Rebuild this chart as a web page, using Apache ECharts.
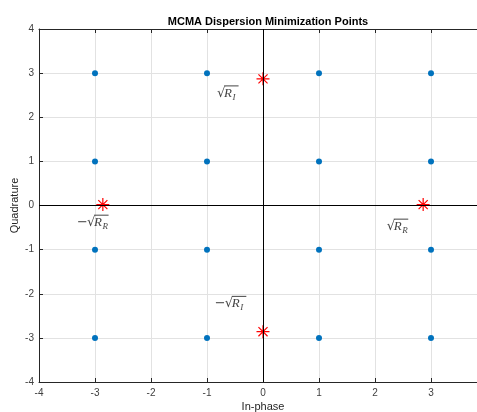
<!DOCTYPE html>
<html>
<head>
<meta charset="utf-8">
<script src="https://cdn.jsdelivr.net/npm/echarts@6/dist/echarts.min.js"></script>
<style>
  html, body { margin: 0; padding: 0; background: #fff; }
  #main { width: 477px; height: 412px; }
</style>
</head>
<body>
<div id="main"></div>
<script>
// 16-QAM constellation levels
const qamLevels = [-3, -1, 1, 3];
// dispersion minimization points (sqrt(R) ~ 2.86)
const dispX = [0, 0, -2.86, 2.86];
const dispY = [2.87, -2.86, 0.02, 0.02];
// annotation anchors (left edge / baseline, data units)
const labelX = [-0.82, -0.86, -3.32, 2.21];
const labelY = [2.45, -2.32, -0.48, -0.57];
const labelNeg = [0, 1, 1, 0];
const labelSub = ["I", "I", "R", "R"];

const ink = "#262626";
const qamData = [];
qamLevels.forEach(function (i) {
  qamLevels.forEach(function (q) {
    qamData.push([i, q]);
  });
});
const dispData = dispX.map(function (x, k) { return [x, dispY[k]]; });
const labelData = labelX.map(function (x, k) { return [x, labelY[k], labelNeg[k]]; });

const myChart = echarts.init(document.getElementById("main"));

function renderLabel(params, api) {
  const pt = api.coord([api.value(0), api.value(1)]);
  let x = pt[0];
  const base = pt[1];
  const kids = [];
  if (api.value(2) === 1) {
    kids.push({ type: "text", style: { text: "\u2212", x: x, y: base - 4, font: '13px "DejaVu Serif"', fill: "#444", textVerticalAlign: "middle" } });
    x += 10;
  }
  kids.push({ type: "text", style: { text: "\u221A", x: x, y: base - 4, font: '13px "DejaVu Serif"', fill: "#444", textVerticalAlign: "middle" } });
  x += 7;
  const lineStart = x;
  kids.push({ type: "text", style: { text: "R", x: x, y: base - 4, font: 'italic 13px "Liberation Serif"', fill: "#444", textVerticalAlign: "middle" } });
  x += 8.5;
  kids.push({ type: "text", style: { text: labelSub[params.dataIndex], x: x, y: base, font: 'italic 9px "Liberation Serif"', fill: "#444", textVerticalAlign: "middle" } });
  x += 6;
  kids.push({ type: "line", shape: { x1: lineStart, y1: base - 11.5, x2: x, y2: base - 11.5 }, style: { stroke: "#444", lineWidth: 1 } });
  return { type: "group", children: kids };
}

const axisCommon = {
  type: "value",
  min: -4,
  max: 4,
  interval: 1,
  axisLine: { show: true, onZero: false, lineStyle: { color: ink, width: 1 } },
  axisTick: { show: true, inside: true, length: 4, lineStyle: { color: ink } },
};

let option = {
  animation: false,
  title: {
    text: "MCMA Dispersion Minimization Points",
    left: 263,
    top: 11,
    textAlign: "center",
    textStyle: { fontFamily: "Liberation Sans", fontSize: 11, fontWeight: "bold", color: "#000" },
  },
  grid: { left: 39, right: -10, top: 29, bottom: 30, containLabel: false, outerBoundsMode: "none" },
  xAxis: [
    Object.assign({}, axisCommon, {
      position: "bottom",
      name: "In-phase",
      nameLocation: "middle",
      nameGap: 19,
      nameMoveOverlap: false,
      nameTextStyle: { fontFamily: "Liberation Sans", fontSize: 11, color: ink },
      axisLabel: { color: "#404040", fontSize: 10, margin: 6, fontFamily: "Liberation Sans" },
      splitLine: { show: true, lineStyle: { color: "#e2e2e2", width: 1 } },
    }),
    Object.assign({}, axisCommon, {
      position: "top",
      axisLabel: { show: false },
      splitLine: { show: false },
    }),
  ],
  yAxis: [
    Object.assign({}, axisCommon, {
      position: "left",
      name: "Quadrature",
      nameLocation: "middle",
      nameGap: 19,
      nameMoveOverlap: false,
      nameTextStyle: { fontFamily: "Liberation Sans", fontSize: 11, color: ink },
      axisLabel: { color: "#404040", fontSize: 10, margin: 5, fontFamily: "Liberation Sans" },
      splitLine: { show: true, lineStyle: { color: "#e2e2e2", width: 1 } },
    }),
    Object.assign({}, axisCommon, {
      position: "right",
      axisLabel: { show: false },
      splitLine: { show: false },
    }),
  ],
  series: [
    {
      type: "scatter",
      data: qamData,
      symbolSize: 6,
      itemStyle: { color: "#0072BD", opacity: 1 },
      markLine: {
        silent: true,
        symbol: "none",
        label: { show: false },
        lineStyle: { color: "#000", width: 1, type: "solid" },
        data: [{ xAxis: 0 }, { yAxis: 0 }],
      },
      z: 3,
    },
    {
      type: "scatter",
      data: dispData,
      symbol: "path://M10,0L10,20M0,10L20,10M3,3L17,17M3,17L17,3",
      symbolSize: 13,
      itemStyle: { color: "none", borderColor: "#ff0000", borderWidth: 1.2, opacity: 1 },
      z: 4,
    },
    {
      type: "custom",
      data: labelData,
      renderItem: renderLabel,
      silent: true,
      z: 5,
    },
  ],
};

myChart.setOption(option);
window.addEventListener("resize", function () { myChart.resize(); });
</script>
</body>
</html>
